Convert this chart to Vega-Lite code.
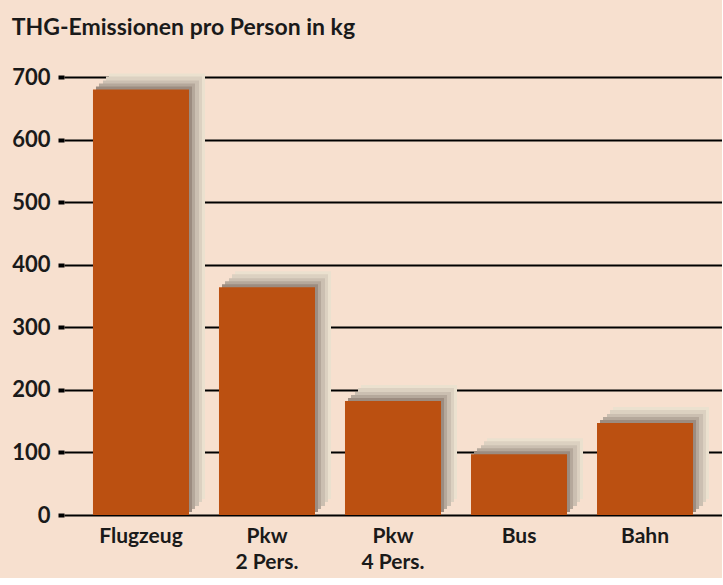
{
  "$schema": "https://vega.github.io/schema/vega-lite/v6.json",
  "width": 658,
  "height": 438,
  "padding": {"left": 11, "top": 17, "right": 0, "bottom": 6},
  "background": "#f7e0cf",
  "config": {
    "view": {"stroke": null},
    "font": "Lato"
  },
  "title": {
    "text": "THG-Emissionen pro Person in kg",
    "anchor": "start",
    "frame": "bounds",
    "font": "Lato",
    "fontSize": 23,
    "fontWeight": "bold",
    "color": "#1a1a1a",
    "offset": 26
  },
  "data": {
    "values": [
      {"mittel": "Flugzeug", "wert": 680},
      {"mittel": "Pkw\n2 Pers.", "wert": 364},
      {"mittel": "Pkw\n4 Pers.", "wert": 182},
      {"mittel": "Bus", "wert": 97},
      {"mittel": "Bahn", "wert": 147}
    ]
  },
  "encoding": {
    "x": {
      "field": "mittel",
      "type": "nominal",
      "sort": null,
      "scale": {"paddingInner": 0.238, "paddingOuter": 0.23},
      "axis": {
        "title": null,
        "labelAngle": 0,
        "labelExpr": "split(datum.label, '\\n')",
        "labelFont": "Lato",
        "labelFontSize": 21,
        "labelFontWeight": "bold",
        "labelColor": "#1a1a1a",
        "labelLineHeight": 26,
        "labelPadding": 10,
        "ticks": false,
        "domain": false,
        "grid": false
      }
    },
    "y": {
      "field": "wert",
      "type": "quantitative",
      "scale": {"domain": [0, 700], "nice": false},
      "axis": {
        "title": null,
        "values": [0, 100, 200, 300, 400, 500, 600, 700],
        "labelFont": "Lato",
        "labelFontSize": 22,
        "labelFontWeight": "bold",
        "labelColor": "#1a1a1a",
        "labelPadding": 8,
        "domain": false,
        "ticks": true,
        "tickSize": 6,
        "tickWidth": 4,
        "tickColor": "#000000",
        "grid": true,
        "gridColor": "#000000",
        "gridWidth": 2,
        "gridOpacity": 1
      }
    }
  },
  "layer": [
    {"mark": {"type": "bar", "color": "#ebe1cf", "xOffset": 16, "yOffset": -16}},
    {"mark": {"type": "bar", "color": "#dcd1c1", "xOffset": 13, "yOffset": -13}},
    {"mark": {"type": "bar", "color": "#cbbfb1", "xOffset": 10, "yOffset": -9}},
    {"mark": {"type": "bar", "color": "#b5a89b", "xOffset": 6, "yOffset": -6}},
    {"mark": {"type": "bar", "color": "#9c8c80", "xOffset": 3, "yOffset": -3}},
    {"mark": {"type": "bar", "color": "#bb5011"}}
  ]
}
